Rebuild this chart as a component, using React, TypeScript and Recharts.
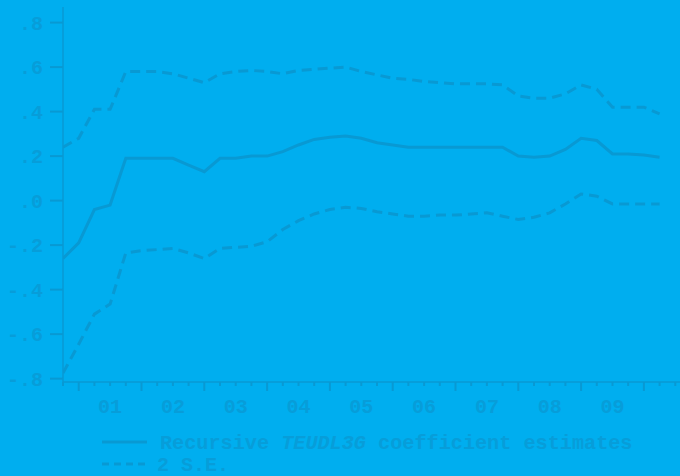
import React from 'react';
import { LineChart, Line, XAxis, YAxis } from 'recharts';

// Quarterly sample, 2000Q4 - 2010Q2
const periods = [
  '2000Q4',
  '2001Q1', '2001Q2', '2001Q3', '2001Q4',
  '2002Q1', '2002Q2', '2002Q3', '2002Q4',
  '2003Q1', '2003Q2', '2003Q3', '2003Q4',
  '2004Q1', '2004Q2', '2004Q3', '2004Q4',
  '2005Q1', '2005Q2', '2005Q3', '2005Q4',
  '2006Q1', '2006Q2', '2006Q3', '2006Q4',
  '2007Q1', '2007Q2', '2007Q3', '2007Q4',
  '2008Q1', '2008Q2', '2008Q3', '2008Q4',
  '2009Q1', '2009Q2', '2009Q3', '2009Q4',
  '2010Q1', '2010Q2',
];

const coefficient = [
  -0.26, -0.19, -0.04, -0.02, 0.19, 0.19, 0.19, 0.19, 0.16, 0.13,
  0.19, 0.19, 0.2, 0.2, 0.22, 0.25, 0.275, 0.285, 0.29, 0.28,
  0.26, 0.25, 0.24, 0.24, 0.24, 0.24, 0.24, 0.24, 0.24, 0.2,
  0.195, 0.2, 0.23, 0.28, 0.27, 0.21, 0.21, 0.205, 0.195,
];

const upperBand = [
  0.24, 0.28, 0.41, 0.41, 0.58, 0.58, 0.58, 0.57, 0.55, 0.53,
  0.57, 0.58, 0.585, 0.58, 0.57, 0.585, 0.59, 0.595, 0.6, 0.58,
  0.565, 0.55, 0.545, 0.535, 0.53, 0.525, 0.525, 0.525, 0.52, 0.47,
  0.46, 0.46, 0.48, 0.52, 0.5, 0.42, 0.42, 0.42, 0.39,
];

const lowerBand = [
  -0.775, -0.645, -0.51, -0.465, -0.235, -0.225, -0.22, -0.215, -0.235, -0.26,
  -0.215, -0.21, -0.205, -0.185, -0.13, -0.09, -0.06, -0.04, -0.03, -0.035,
  -0.05, -0.06, -0.07, -0.07, -0.065, -0.065, -0.06, -0.055, -0.07, -0.085,
  -0.075, -0.055, -0.015, 0.03, 0.02, -0.015, -0.015, -0.015, -0.015,
];

const yTicks = [-0.8, -0.6, -0.4, -0.2, 0, 0.2, 0.4, 0.6, 0.8];
const yearLabels = ['01', '02', '03', '04', '05', '06', '07', '08', '09'];

const data = periods.map((period, i) => ({
  i,
  period,
  coefficient: coefficient[i],
  upper: upperBand[i],
  lower: lowerBand[i],
}));

// one tick per quarter, including the edge after the last observation
const quarterTicks = [...periods.map((_, i) => i), periods.length];

const BG = '#00AEEF';
const INK = '#0899D3';
const TEXT = '#079DD9';
const FONT = '"Liberation Mono", "DejaVu Sans Mono", monospace';

const fmtValue = (v: number) => v.toFixed(1).replace('0.', '.');

function QuarterTick({ x, y, payload }: any) {
  const i = payload.value as number;
  const major = (i - 1) % 4 === 0;
  const label = (i - 3) % 4 === 0 ? yearLabels[(i - 3) / 4] : undefined;
  return (
    <g>
      <line x1={x} x2={x} y1={y} y2={y + (major ? 9 : 4)} stroke={INK} strokeWidth={2} />
      {label && (
        <text x={x} y={y + 31} textAnchor="middle" fill={TEXT} fontSize={20} fontWeight="bold" fontFamily={FONT}>
          {label}
        </text>
      )}
    </g>
  );
}

function ValueTick({ x, y, payload }: any) {
  return (
    <g>
      <line x1={x - 13} x2={x} y1={y} y2={y} stroke={INK} strokeWidth={2} />
      <text x={x - 20} y={y} dy="0.35em" textAnchor="end" fill={TEXT} fontSize={20} fontWeight="bold" fontFamily={FONT}>
        {fmtValue(payload.value)}
      </text>
    </g>
  );
}

function LegendBox() {
  return (
    <svg width={680} height={56} style={{ position: 'absolute', left: 0, top: 420 }}>
      <line x1={102} x2={147} y1={22} y2={22} stroke={INK} strokeWidth={3} />
      <text x={160} y={22} dy="0.35em" fill={TEXT} fontSize={20.2} fontWeight="bold" fontFamily={FONT}>
        Recursive <tspan fontStyle="italic">TEUDL3G</tspan> coefficient estimates
      </text>
      <line x1={102} x2={147} y1={44} y2={44} stroke={INK} strokeWidth={3} strokeDasharray="7 5" />
      <text x={157} y={44} dy="0.35em" fill={TEXT} fontSize={20} fontWeight="bold" fontFamily={FONT}>
        2 S.E.
      </text>
    </svg>
  );
}

export default function App() {
  return (
    <div style={{ position: 'absolute', left: 0, top: 0, width: 680, height: 476, background: BG, overflow: 'hidden' }}>
      <LineChart width={680} height={476} data={data} margin={{ top: 7, right: 0, left: 0, bottom: 64 }}>
        <XAxis
          dataKey="i"
          type="number"
          domain={[0, 39.3]}
          allowDataOverflow
          ticks={quarterTicks}
          interval={0}
          height={30}
          tickSize={0}
          tickMargin={0}
          axisLine={{ stroke: INK, strokeWidth: 1.5 }}
          tickLine={false}
          tick={<QuarterTick />}
        />
        <YAxis
          type="number"
          domain={[-0.815, 0.87]}
          allowDataOverflow
          ticks={yTicks}
          interval={0}
          width={63}
          tickSize={0}
          tickMargin={0}
          axisLine={{ stroke: INK, strokeWidth: 1.5 }}
          tickLine={false}
          tick={<ValueTick />}
        />
        <Line type="linear" dataKey="upper" stroke={INK} strokeWidth={3} strokeDasharray="10 6" dot={false} isAnimationActive={false} />
        <Line type="linear" dataKey="lower" stroke={INK} strokeWidth={3} strokeDasharray="10 6" dot={false} isAnimationActive={false} />
        <Line type="linear" dataKey="coefficient" stroke={INK} strokeWidth={3} dot={false} isAnimationActive={false} />
      </LineChart>
      <LegendBox />
    </div>
  );
}
